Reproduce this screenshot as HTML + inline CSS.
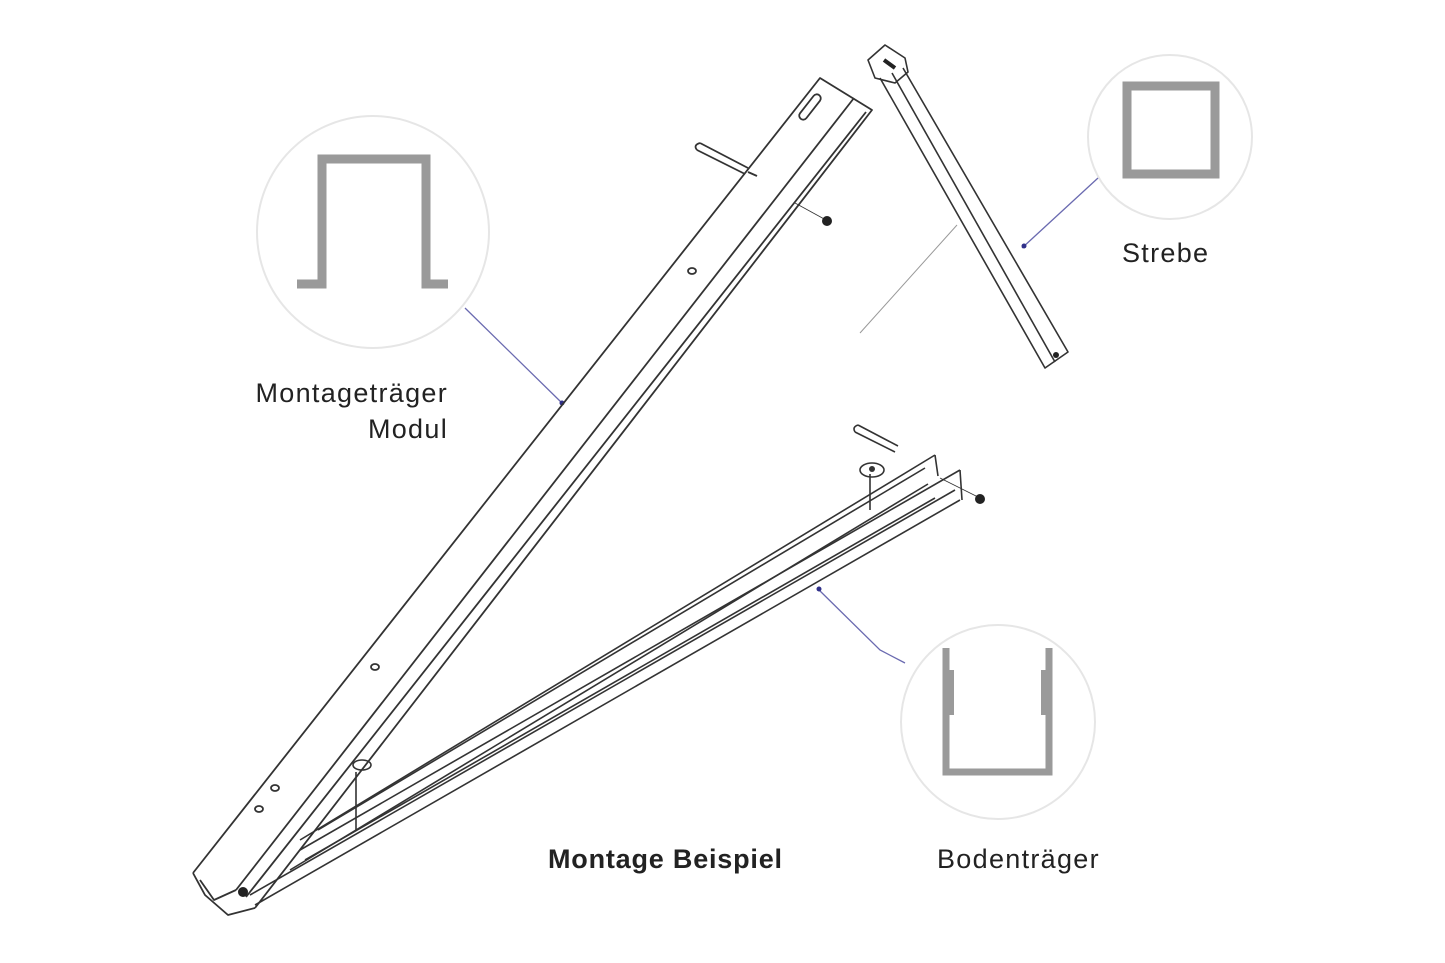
<!DOCTYPE html>
<html><head><meta charset="utf-8"><style>
html,body{margin:0;padding:0;background:#fff;}
svg{display:block;}
text{font-family:"Liberation Sans",sans-serif;fill:#222;}
</style></head><body>
<svg width="1445" height="963" viewBox="0 0 1445 963" xmlns="http://www.w3.org/2000/svg">
<rect width="1445" height="963" fill="#fff"/>
<!-- circles -->
<circle cx="373" cy="232" r="116" fill="#fff" stroke="#e6e6e6" stroke-width="2"/>
<circle cx="1170" cy="137" r="82" fill="#fff" stroke="#e6e6e6" stroke-width="2"/>
<circle cx="998" cy="722" r="97" fill="#fff" stroke="#e6e6e6" stroke-width="2"/>
<!-- hat profile -->
<path d="M297,284 H322 V159 H426 V284 H448" fill="none" stroke="#9a9a9a" stroke-width="9"/>
<!-- square profile -->
<rect x="1127" y="86" width="88" height="88" fill="none" stroke="#9a9a9a" stroke-width="9"/>
<!-- U profile -->
<path d="M946,648 V772 H1049 V648" fill="none" stroke="#9a9a9a" stroke-width="7"/>
<rect x="946" y="670" width="8" height="45" fill="#9a9a9a"/>
<rect x="1041" y="670" width="8" height="45" fill="#9a9a9a"/>
<!-- leaders -->
<g stroke="#6a6ab0" stroke-width="1.3" fill="none">
<line x1="465" y1="308" x2="563" y2="404"/>
<line x1="1098" y1="178" x2="1022" y2="248"/>
<path d="M905,663 L880,650 L817,588"/>
</g>
<g fill="#30308a"><circle cx="562" cy="403" r="2.5"/><circle cx="1024" cy="246" r="2.5"/><circle cx="819" cy="589" r="2.5"/></g>
<line x1="860" y1="333" x2="957" y2="225" stroke="#999" stroke-width="1"/>
<!-- main beam -->
<g stroke="#333" stroke-width="1.8" fill="none" stroke-linejoin="round">
<path d="M193,873 L820,78 L872,110 L255,908"/>
<line x1="236" y1="890" x2="854" y2="98"/>
<line x1="246" y1="897" x2="866" y2="112"/>
<path d="M193,873 L205,895 L228,915 L255,908"/>
<path d="M200,880 L214,900 L236,890"/>
<rect x="806" y="92" width="8" height="30" rx="4" transform="rotate(38 810 107)"/>
<ellipse cx="692" cy="271" rx="4" ry="3"/>
<ellipse cx="375" cy="667" rx="4" ry="3"/>
<ellipse cx="275" cy="788" rx="4" ry="3"/>
<ellipse cx="259" cy="809" rx="4" ry="3"/>
<path d="M700,143 L748,168 M697,150 L745,174 M700,143 Q693,145 697,150"/>
<line x1="748" y1="172" x2="757" y2="176"/>
<line x1="795" y1="203" x2="826" y2="220" stroke-width="0.8"/>
</g>
<circle cx="827" cy="221" r="5" fill="#222"/>
<circle cx="243" cy="892" r="5" fill="#222"/>
<!-- bottom beam -->
<g stroke="#333" stroke-width="1.6" fill="none" stroke-linejoin="round">
<line x1="255" y1="905" x2="960" y2="500"/>
<line x1="250" y1="895" x2="955" y2="490"/>
<line x1="300" y1="850" x2="960" y2="470"/>
<line x1="305" y1="860" x2="935" y2="498"/>
<line x1="290" y1="870" x2="928" y2="484"/>
<line x1="300" y1="840" x2="935" y2="455"/>
<line x1="318" y1="830" x2="925" y2="468"/>
<path d="M935,455 L938,476 M960,470 L962,500"/>
<path d="M870,474 L870,510 M356,772 L356,830"/>
<ellipse cx="362" cy="765" rx="9" ry="5"/>
<ellipse cx="872" cy="470" rx="12" ry="7"/>
<path d="M858,425 L898,446 M855,432 L895,452 M858,425 Q852,427 855,432"/>
<line x1="940" y1="478" x2="978" y2="497" stroke-width="0.8"/>
</g>
<circle cx="872" cy="469" r="3" fill="#333"/>
<circle cx="980" cy="499" r="5" fill="#222"/>
<!-- strebe -->
<g stroke="#333" stroke-width="1.6" fill="none" stroke-linejoin="round">
<path d="M880,78 L1045,368 L1068,352 L903,68"/>
<line x1="892" y1="73" x2="1055" y2="362"/>
<path d="M868,60 L885,45 L905,58 L908,72 L895,83 L875,78 Z"/>
</g>
<path d="M884,60 L895,68" stroke="#222" stroke-width="4"/>
<circle cx="1056" cy="355" r="3" fill="#222"/>
<!-- text -->
<text x="448" y="402" font-size="27" text-anchor="end" letter-spacing="1.3">Montageträger</text>
<text x="448" y="438" font-size="27" text-anchor="end" letter-spacing="1.3">Modul</text>
<text x="1122" y="262" font-size="27" letter-spacing="1.3">Strebe</text>
<text x="548" y="868" font-size="27" font-weight="bold" letter-spacing="0.8">Montage Beispiel</text>
<text x="937" y="868" font-size="27" letter-spacing="1.3">Bodenträger</text>
</svg>
</body></html>
